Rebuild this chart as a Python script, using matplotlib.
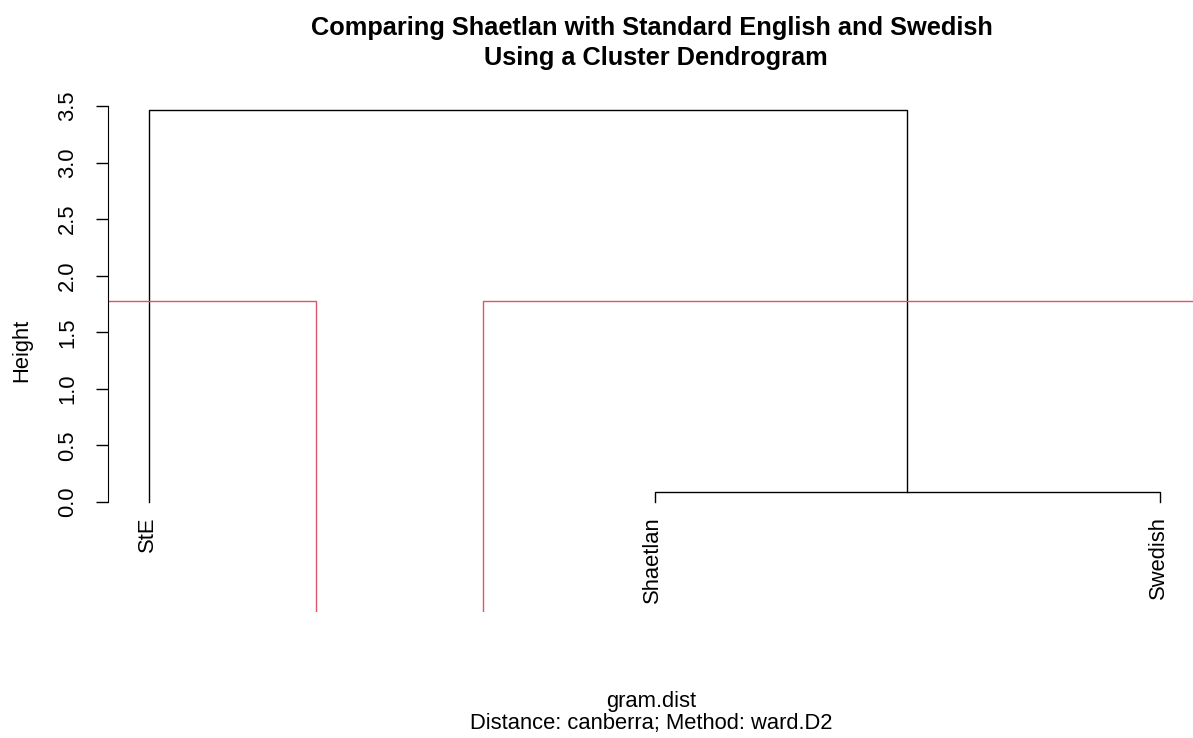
import matplotlib
matplotlib.use("Agg")
import matplotlib.pyplot as plt

plt.rcParams['font.family'] = ['Liberation Sans', 'DejaVu Sans']

# dendrogram data (leaf order as drawn)
leaf_labels = ["StE", "Shaetlan", "Swedish"]
merge_heights = [0.088, 3.466]   # Shaetlan+Swedish, then with StE
cluster_sizes = [1, 2]           # rect.hclust k = 2
y_ticks = [0.0, 0.5, 1.0, 1.5, 2.0, 2.5, 3.0, 3.5]

W, H = 1193, 738
fig = plt.figure(figsize=(W / 100, H / 100), dpi=100)

# plot region in pixels: left 108, right ~1195, bottom 612
px_per_unit = (502 - 106) / 3.5
ybot = -(612 - 502) / px_per_unit
ytop = (502 - 90) / px_per_unit
xunit = (1160 - 149) / 2
xleft = 1 - (149 - 108) / xunit
xright = 1 + (1195 - 149) / xunit

ax = fig.add_axes([108 / W, (H - 612) / H, (1195 - 108) / W, (612 - 90) / H])
ax.set_xlim(xleft, xright)
ax.set_ylim(ybot, ytop)

fs = 15.8
x = [1, 2, 3]
h1, h2 = merge_heights
# first merge: Shaetlan + Swedish
ax.plot([x[1], x[1], x[2], x[2]], [0, h1, h1, 0], color="black", lw=1)
# second merge: StE with the pair
mid = (x[1] + x[2]) / 2
ax.plot([x[0], x[0], mid, mid], [0, h2, h2, h1], color="black", lw=1)

# rect.hclust boxes
cut = (h1 + h2) / 2
start = 0
for n in cluster_sizes:
    left = start + 0.66
    right = start + n + 0.33
    ax.plot([left, left, right, right], [ybot, cut, cut, ybot],
            color="#DF536B", lw=1)
    start += n

for xi, lab in zip(x, leaf_labels):
    ax.text(xi - 0.004, -(516 - 502) / px_per_unit, lab, rotation=90,
            ha="center", va="top", fontsize=fs)

for s in ["top", "right", "bottom"]:
    ax.spines[s].set_visible(False)
ax.spines["left"].set_bounds(0, 3.5)
ax.set_xticks([])
ax.set_yticks(y_ticks)
ax.set_yticklabels([f"{t:.1f}" for t in y_ticks], rotation=90, va="center")
ax.tick_params(axis="y", length=8.6, width=1, pad=13, labelsize=fs)

cx = (108 + 1195) / 2 / W
fig.text(22 / W, 1 - 350 / H, "Height", rotation=90, ha="center", va="center", fontsize=fs)
fig.text(cx, 1 - 28 / H, "Comparing Shaetlan with Standard English and Swedish",
         ha="center", va="center", fontsize=18.3, fontweight="bold")
fig.text(cx + 4 / W, 1 - 58 / H, "Using a Cluster Dendrogram",
         ha="center", va="center", fontsize=18.3, fontweight="bold")
fig.text(cx, 1 - 702 / H, "gram.dist", ha="center", va="center", fontsize=fs)
fig.text(cx, 1 - 724 / H, "Distance: canberra; Method: ward.D2",
         ha="center", va="center", fontsize=fs)

fig.savefig("out.png", dpi=100)
